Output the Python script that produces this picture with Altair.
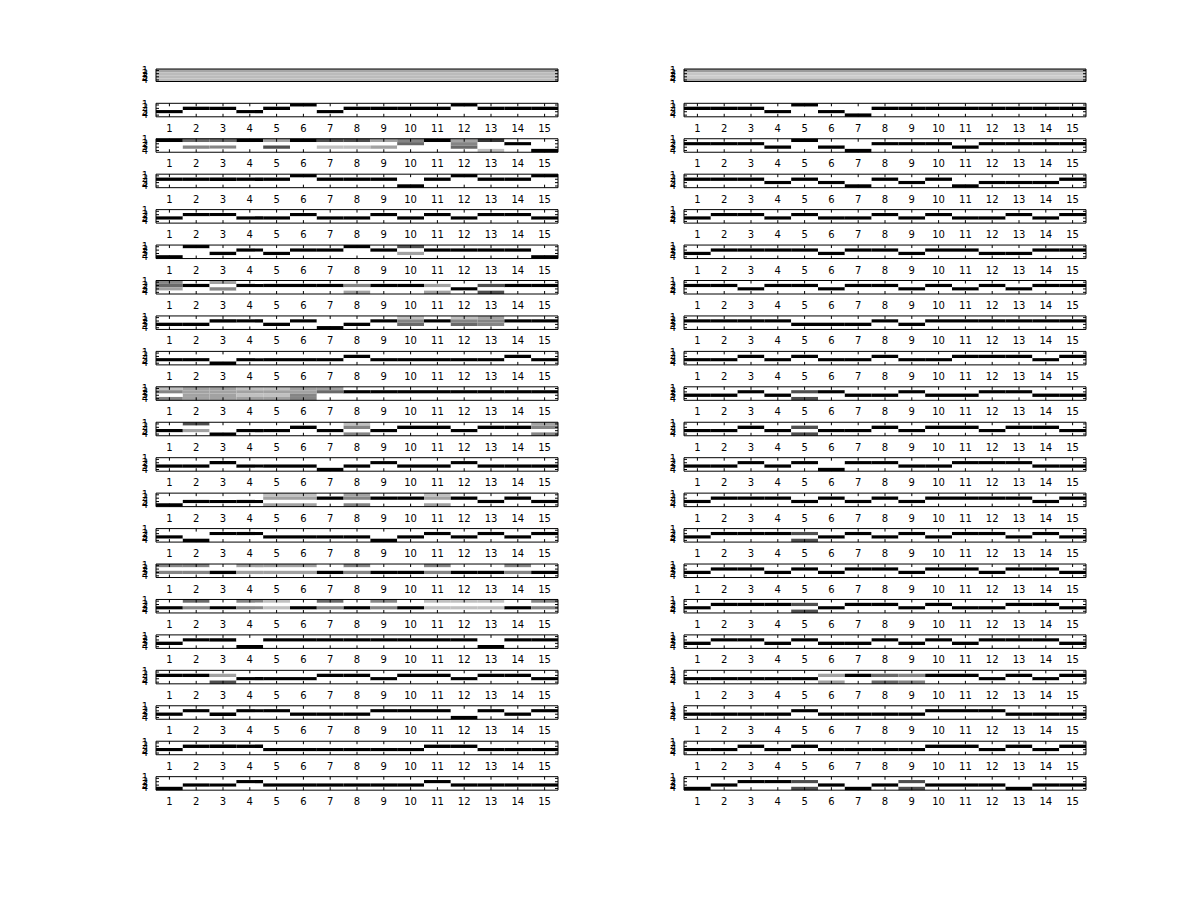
import altair as alt
import pandas as pd

# ---------------- data ----------------
X_LABELS = [str(i) for i in range(1, 16)]
Y_LABELS = ["1", "2", "3", "4"]

# darkness (0 = white, 1 = black) per row of the top bar panels
TOP_LEFT = [0.32, 0.24, 0.24, 0.24]
TOP_RIGHT = [0.36, 0.20, 0.18, 0.30]

# Each panel: 15 tokens (one per column). A single digit = that row is black;
# four digits = darkness of rows 1..4 in ninths.
LEFT_PANELS = [
    "3 2 2 3 2 1 3 2 2 2 2 1 2 2 2",
    "1 5040 5040 1 3060 1 6020 6020 3030 4500 1 3450 7002 2 4",
    "2 2 2 2 2 1 2 2 2 4 2 1 2 2 1",
    "3 2 2 3 3 2 3 3 2 3 2 3 2 2 3",
    "4 1 3 2 3 2 2 1 2 6030 2 2 2 2 4",
    "4530 2 3040 2 2 2 2 0403 2 2 0303 3 0606 2 2",
    "3 3 2 2 3 2 4 3 2 2450 2 2450 3440 2 2",
    "3 3 4 3 3 3 3 2 3 3 3 3 3 2 3",
    "2404 3333 3333 2323 2323 3344 3500 2 2 2 2 2 2 2 2",
    "3 6030 4 3 3 2 3 2404 3 2 2 3 2 2 3404",
    "3 3 2 3 3 3 4 3 2 3 3 2 3 3 3",
    "4 3 3 3 2303 2303 2 3404 2 2 2303 2 3 2 3",
    "3 4 2 2 3 3 3 3 4 3 2 3 2 3 2",
    "4040 4040 3 3030 3030 3030 3 4040 3 3 4040 3 3 4040 3",
    "3 5040 3 4040 2020 3 5040 3 4040 3 2020 2020 2020 3 4040",
    "3 2 2 4 2 2 2 2 2 2 2 2 4 2 2",
    "2 2 0306 3 3 3 2 2 3 2 2 3 2 2 3",
    "3 2 3 2 2 3 3 3 2 2 2 4 2 3 2",
    "3 2 2 2 3 3 3 3 3 3 2 2 3 3 3",
    "4 3 3 2 3 3 3 3 3 3 2 3 3 3 3",
]

RIGHT_PANELS = [
    "2 2 2 3 1 3 4 2 2 2 2 2 2 2 2",
    "2 2 2 3 1 3 4 2 2 2 3 2 2 2 2",
    "2 2 2 3 2 3 4 2 3 2 4 3 3 3 2",
    "3 2 2 3 2 3 3 2 3 2 3 3 2 3 2",
    "3 2 2 2 2 3 2 2 3 2 2 3 3 2 2",
    "2 2 3 2 2 3 2 2 3 2 3 2 3 2 2",
    "2 2 2 2 3 3 3 2 3 2 2 2 2 2 2",
    "3 3 2 3 2 3 3 2 3 3 2 2 2 3 2",
    "3 3 2 3 0606 2 3 3 2 3 3 2 2 3 3",
    "3 3 2 3 0606 3 3 2 3 2 2 3 2 2 3",
    "3 3 2 3 2 4 2 2 3 3 2 2 2 3 3",
    "3 2 2 2 3 2 3 2 3 2 2 2 2 3 2",
    "3 2 2 2 0606 3 2 3 2 3 2 2 3 2 3",
    "3 2 2 3 2 3 2 2 3 2 2 3 2 2 3",
    "3 2 2 2 0606 3 2 2 3 2 3 3 2 2 3",
    "3 2 2 3 2 3 3 2 3 2 3 2 2 2 3",
    "3 3 3 3 3 0303 2 0505 0404 2 2 3 2 3 2",
    "3 3 3 3 2 3 3 3 3 2 2 2 3 3 3",
    "3 3 2 3 2 3 3 3 3 2 2 3 2 3 2",
    "4 3 2 2 0606 3 4 3 0606 3 3 3 4 3 3",
]

# ---------------- layout (pixels of the 1200x900 page) ----------------
PLOT_LEFT, PLOT_TOP = 156, 69
PLOT_W, PLOT_H = 930, 721
PANEL_W = 402.0
COL_PX = PANEL_W / 15.0
COL_OFFSETS = [0.0, (684 - 156) / COL_PX]       # right column shift, in column units
TOP_BAR = (0.0, 12.5)                           # y, height of the top bar panel
FIRST_TOP, PITCH, PANEL_H = 34.3, 35.44, 13.5
TICK = 3.0


def parse(token):
    if len(token) == 1:
        return [1.0 if r == int(token) else 0.0 for r in range(1, 5)]
    return [int(c) / 9.0 for c in token]


cells, borders, vticks, hticks, xlabels, ylabels = [], [], [], [], [], []

for side, (panels, top_bar) in enumerate([(LEFT_PANELS, TOP_LEFT), (RIGHT_PANELS, TOP_RIGHT)]):
    off = COL_OFFSETS[side]
    x_left, x_right = 0.5 + off, 15.5 + off
    tick_x = TICK / COL_PX

    def frame(top, h):
        borders.append(dict(x=x_left, x2=x_right, y=top, y2=top + h))
        for r in range(4):
            yc = top + (r + 0.5) * h / 4
            hticks.append(dict(x=x_left, x2=x_left + tick_x, y=yc))
            hticks.append(dict(x=x_right - tick_x, x2=x_right, y=yc))
            ylabels.append(dict(x=x_left, y=yc, label=Y_LABELS[r]))

    # top bar panel
    ty, th = TOP_BAR
    for r, d in enumerate(top_bar):
        cells.append(dict(x=x_left, x2=x_right, y=ty + r * th / 4, y2=ty + (r + 1) * th / 4, shade=d))
    frame(ty, th)

    # grid panels
    for k, spec in enumerate(panels):
        top = FIRST_TOP + k * PITCH
        for c, tok in enumerate(spec.split()):
            xc = c + 1 + off
            for r, d in enumerate(parse(tok)):
                cells.append(dict(x=xc - 0.5, x2=xc + 0.5,
                                  y=top + r * PANEL_H / 4, y2=top + (r + 1) * PANEL_H / 4, shade=d))
            vticks.append(dict(x=xc, y=top, y2=top + TICK))
            vticks.append(dict(x=xc, y=top + PANEL_H - TICK, y2=top + PANEL_H))
            xlabels.append(dict(x=xc, y=top + PANEL_H, label=X_LABELS[c]))
        frame(top, PANEL_H)

xs = alt.Scale(domain=[0.5, 0.5 + PLOT_W / COL_PX], nice=False, zero=False)
ys = alt.Scale(domain=[0, PLOT_H], nice=False, zero=False, reverse=True)
X = lambda f="x": alt.X(f"{f}:Q", scale=xs, axis=None)
Y = lambda f="y": alt.Y(f"{f}:Q", scale=ys, axis=None)

cell_layer = alt.Chart(pd.DataFrame(cells)).mark_rect(strokeWidth=0).encode(
    x=X(), x2="x2", y=Y(), y2="y2",
    color=alt.Color("shade:Q", scale=alt.Scale(domain=[0, 1], range=["#ffffff", "#000000"]), legend=None),
)
border_layer = alt.Chart(pd.DataFrame(borders)).mark_rect(
    filled=False, stroke="black", strokeWidth=1
).encode(x=X(), x2="x2", y=Y(), y2="y2")
vtick_layer = alt.Chart(pd.DataFrame(vticks)).mark_rule(color="black", strokeWidth=1).encode(
    x=X(), y=Y(), y2="y2")
htick_layer = alt.Chart(pd.DataFrame(hticks)).mark_rule(color="black", strokeWidth=1).encode(
    x=X(), x2="x2", y=Y())
xlabel_layer = alt.Chart(pd.DataFrame(xlabels)).mark_text(
    baseline="top", dy=7, fontSize=10, font="DejaVu Sans", color="black"
).encode(x=X(), y=Y(), text="label:N")
ylabel_layer = alt.Chart(pd.DataFrame(ylabels)).mark_text(
    align="right", baseline="middle", dx=-8, fontSize=10, font="DejaVu Sans", color="black"
).encode(x=X(), y=Y(), text="label:N")

chart = alt.layer(
    cell_layer, border_layer, vtick_layer, htick_layer, xlabel_layer, ylabel_layer
).properties(
    width=PLOT_W, height=PLOT_H,
    autosize=alt.AutoSizeParams(type="none"),
    padding={"left": PLOT_LEFT, "top": PLOT_TOP, "right": 1200 - PLOT_LEFT - PLOT_W,
             "bottom": 900 - PLOT_TOP - PLOT_H},
    background="white",
).configure_view(stroke=None)

chart.save("out.html", embed_options={"renderer": "svg", "actions": False})
